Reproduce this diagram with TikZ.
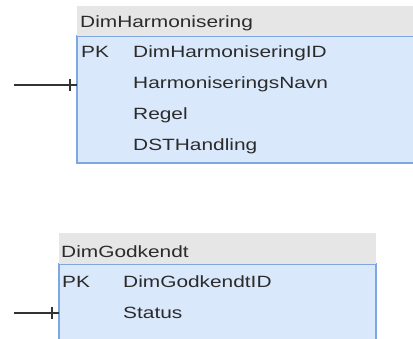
\documentclass[tikz,border=0pt]{standalone}
\usepackage{fontspec}
\setmainfont{Liberation Sans}[FakeStretch=1.28]
\usepackage{xcolor}
\definecolor{hdgray}{HTML}{E6E6E6}
\definecolor{bodyblue}{HTML}{DAE8FC}
\definecolor{edgeblue}{HTML}{7EA6E0}
\definecolor{txt}{HTML}{2B2B2B}

\begin{document}
\begin{tikzpicture}[x=1pt,y=-1pt,
  hd/.style={fill=hdgray,draw=none},
  bd/.style={fill=bodyblue,draw=edgeblue,line width=1.2pt},
  lbl/.style={anchor=base west,inner sep=0pt,text=txt,font=\fontsize{16.3}{19}\selectfont},
  rel/.style={draw=black!80,line width=1.4pt}]
\useasboundingbox (0,0) rectangle (413,338);
% DimHarmonisering
\draw[bd] (77,36) rectangle (420,163);
\fill[hd] (77,6) rectangle (420,36);
\node[lbl] (harm) at (80,27) {DimHarmonisering};
\node[lbl] (harmpk) at (81,57) {PK};
\node[lbl] (harmid) at (133,57) {DimHarmoniseringID};
\node[lbl] (harmnavn) at (133,88) {HarmoniseringsNavn};
\node[lbl] (harmregel) at (133,119) {Regel};
\node[lbl] (harmdst) at (133,150) {DSTHandling};
% DimGodkendt
\draw[bd] (59,264) rectangle (376,345);
\fill[hd] (59,233) rectangle (376,264);
\node[lbl] (godk) at (61,257) {DimGodkendt};
\node[lbl] (godkpk) at (62,287) {PK};
\node[lbl] (godkid) at (123,287) {DimGodkendtID};
\node[lbl] (godkstatus) at (123,318) {Status};
% relations
\coordinate (h1) at (14,85);
\coordinate (h2) at (77,85);
\coordinate (g1) at (14,313);
\coordinate (g2) at (59,313);
\draw[rel] (h1) -- (h2);
\draw[rel] ([xshift=-7pt]h2) ++(0,-6) -- ++(0,12);
\draw[rel] (g1) -- (g2);
\draw[rel] ([xshift=-7pt]g2) ++(0,-6) -- ++(0,12);
\end{tikzpicture}
\end{document}
